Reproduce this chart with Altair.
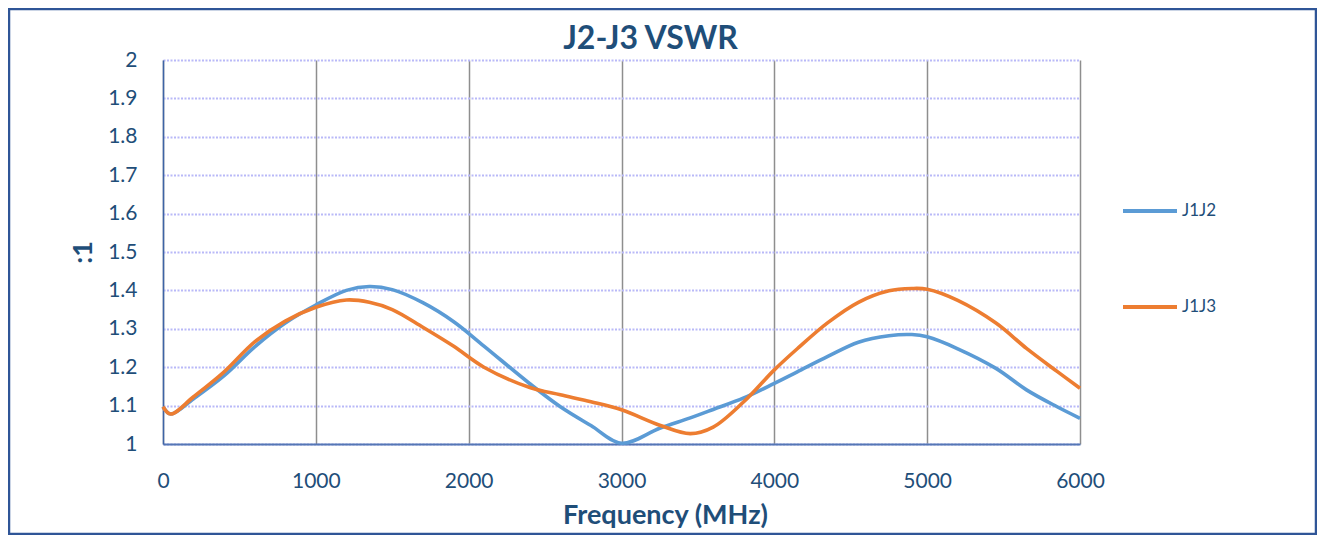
import altair as alt
import pandas as pd

freq = [0, 50, 200, 400, 600, 800, 1000, 1200, 1350, 1500, 1700, 1900, 2100, 2400,
        2600, 2800, 3000, 3250, 3450, 3600, 3800, 4000, 4150, 4350, 4550, 4750, 4900,
        5000, 5200, 5450, 5650, 5850, 6000]
j1j2 = [1.097, 1.078, 1.118, 1.178, 1.253, 1.315, 1.362, 1.400, 1.410, 1.402, 1.368,
        1.319, 1.255, 1.157, 1.097, 1.048, 1.002, 1.041, 1.068, 1.090, 1.120, 1.158,
        1.188, 1.228, 1.265, 1.282, 1.285, 1.279, 1.248, 1.197, 1.141, 1.097, 1.067]
j1j3 = [1.097, 1.078, 1.123, 1.188, 1.266, 1.320, 1.356, 1.375, 1.369, 1.350, 1.304,
        1.255, 1.200, 1.147, 1.128, 1.110, 1.089, 1.049, 1.027, 1.044, 1.110, 1.193,
        1.248, 1.316, 1.369, 1.399, 1.405, 1.403, 1.374, 1.315, 1.249, 1.189, 1.145]
series_names = ["J1J2", "J1J3"]
series_colors = ["#5B9BD5", "#ED7D31"]
x_ticks = [0, 1000, 2000, 3000, 4000, 5000, 6000]
y_ticks = [1, 1.1, 1.2, 1.3, 1.4, 1.5, 1.6, 1.7, 1.8, 1.9, 2]

rows = []
for name, vals in zip(series_names, [j1j2, j1j3]):
    for f, v in zip(freq, vals):
        rows.append({"freq": f, "vswr": v, "series": name})
df = pd.DataFrame(rows)

TXT = "#1F4E79"
FONT = "Lato"

lines = alt.Chart(df).mark_line(strokeWidth=3.6, interpolate="catmull-rom").encode(
    x=alt.X("freq:Q",
            scale=alt.Scale(domain=[0, 6000], nice=False),
            axis=alt.Axis(values=x_ticks, format="d", title="Frequency (MHz)",
                          grid=True, gridColor="#8E8E8E", gridWidth=1.5,
                          domainColor="#5577B5", domainWidth=2,
                          ticks=False, labelPadding=26, labelFlush=False,
                          titleX=502, titleY=71, titleBaseline="middle",
                          titleAlign="center")),
    y=alt.Y("vswr:Q",
            scale=alt.Scale(domain=[1, 2], nice=False, zero=False),
            axis=alt.Axis(values=y_ticks, format=".1~f", title=":1",
                          grid=True, gridColor="#B9B9F8", gridWidth=2,
                          gridDash=[2, 1.5],
                          domainColor="#3E64A6", domainWidth=1.5,
                          ticks=False, labelPadding=26, labelFlush=False,
                          titleX=-80, titleY=192, titleAngle=-90,
                          titleBaseline="middle", titleAlign="center")),
    color=alt.Color("series:N",
                    scale=alt.Scale(domain=series_names, range=series_colors),
                    legend=alt.Legend(title=None, orient="none", legendX=958,
                                      legendY=122, direction="vertical",
                                      symbolType="stroke", symbolSize=2916,
                                      symbolStrokeWidth=4, labelFont=FONT,
                                      labelFontSize=17, labelColor=TXT,
                                      labelOffset=3, rowPadding=59, padding=0)),
)

frame = alt.Chart(alt.Data(values=[{}])).mark_rect(
    fillOpacity=0, stroke="#2F5597", strokeWidth=2.5
).encode(
    x=alt.value(-154), x2=alt.value(1153), y=alt.value(-51), y2=alt.value(474)
)

chart = alt.layer(lines, frame).properties(
    width=917, height=384,
    title=alt.TitleParams("J2-J3 VSWR", font=FONT, fontSize=32, fontWeight="bold",
                          color=TXT, anchor="middle", frame="group",
                          baseline="alphabetic", offset=0, dx=29, dy=73),
    padding={"left": 155, "top": 52, "right": 237, "bottom": 91},
    autosize=alt.AutoSizeParams(type="none"),
    background="white",
).configure_view(stroke=None).configure_axis(
    labelFont=FONT, labelFontSize=21, labelColor=TXT,
    titleFont=FONT, titleFontSize=27, titleFontWeight="bold", titleColor=TXT,
)

chart.save("out.html", embed_options={"renderer": "svg", "actions": False})
